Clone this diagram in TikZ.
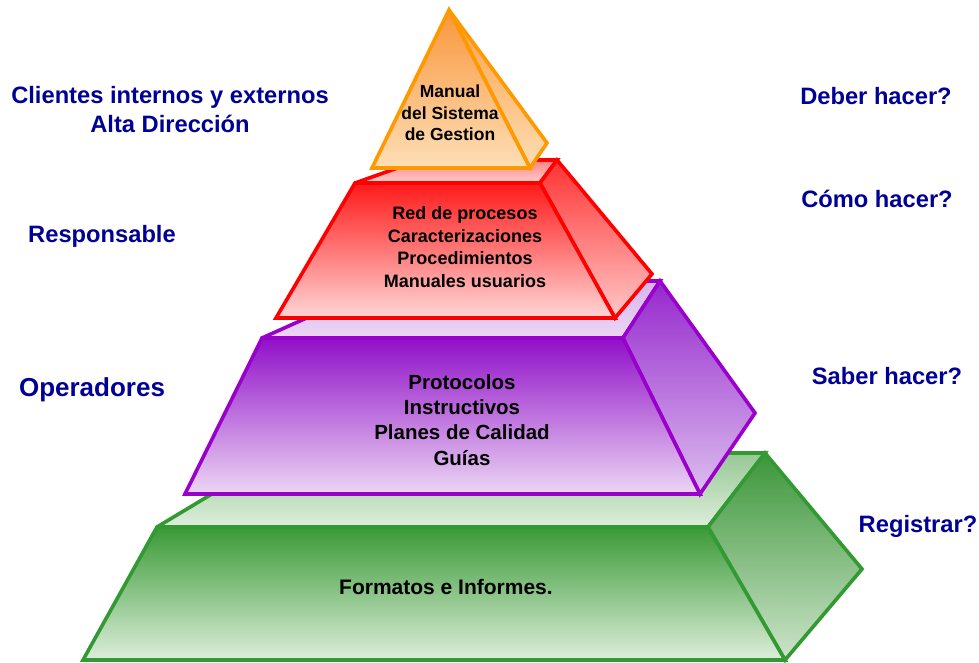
\documentclass[tikz,border=0pt]{standalone}
\usepackage{fontspec}
\setmainfont{Liberation Sans}
\definecolor{navy}{RGB}{0,0,150}
\definecolor{ostroke}{RGB}{255,153,0}
\definecolor{rstroke}{RGB}{255,0,0}
\definecolor{pstroke}{RGB}{153,0,204}
\definecolor{gstroke}{RGB}{51,153,51}
\tikzset{
  lbl/.style={text=navy, font=\bfseries\fontsize{23.7}{29}\selectfont, align=center, inner sep=0pt},
  inner/.style={text=black, align=center, inner sep=0pt},
  face/.style={line width=3.6pt, line join=miter, miter limit=2.5}
}
\begin{document}
\begin{tikzpicture}[x=1pt,y=-1pt]
\useasboundingbox (0,0) rectangle (979,662);
% ---------- green tier ----------
\path[face, draw=gstroke, top color={rgb,255:red,150;green,200;blue,148}, bottom color={rgb,255:red,222;green,238;blue,220}]
  (157,527) -- (280,453) -- (765,453) -- (708,527) -- cycle;
\path[face, draw=gstroke, top color={rgb,255:red,60;green,150;blue,58}, bottom color={rgb,255:red,205;green,228;blue,202}]
  (708,527) -- (765,453) -- (862,569) -- (785,660) -- cycle;
\path[face, draw=gstroke, top color={rgb,255:red,58;green,154;blue,54}, bottom color={rgb,255:red,221;green,238;blue,219}]
  (157,527) -- (708,527) -- (785,660) -- (83,660) -- cycle;
% ---------- purple tier ----------
\path[face, draw=pstroke, top color={rgb,255:red,215;green,180;blue,235}, bottom color={rgb,255:red,236;green,214;blue,244}]
  (262,338) -- (389,281) -- (660,281) -- (623,338) -- cycle;
\path[face, draw=pstroke, top color={rgb,255:red,150;green,40;blue,205}, bottom color={rgb,255:red,220;green,190;blue,238}]
  (623,338) -- (660,281) -- (755,413) -- (700,494) -- cycle;
\path[face, draw=pstroke, top color={rgb,255:red,144;green,16;blue,200}, bottom color={rgb,255:red,236;green,214;blue,244}]
  (262,338) -- (623,338) -- (700,494) -- (185,494) -- cycle;
% ---------- red tier ----------
\path[face, draw=rstroke, top color={rgb,255:red,255;green,130;blue,130}, bottom color={rgb,255:red,255;green,205;blue,205}]
  (355,183) -- (420,160) -- (557,160) -- (540,183) -- cycle;
\path[face, draw=rstroke, top color={rgb,255:red,255;green,50;blue,50}, bottom color={rgb,255:red,255;green,200;blue,200}]
  (540,183) -- (557,160) -- (652,274) -- (615,318) -- cycle;
\path[face, draw=rstroke, top color={rgb,255:red,255;green,26;blue,26}, bottom color={rgb,255:red,255;green,214;blue,214}]
  (355,183) -- (540,183) -- (615,318) -- (276,318) -- cycle;
% ---------- orange tier ----------
\path[face, draw=ostroke, top color={rgb,255:red,250;green,160;blue,70}, bottom color={rgb,255:red,253;green,222;blue,180}]
  (449,10) -- (547,143) -- (530,168) -- cycle;
\path[face, draw=ostroke, top color={rgb,255:red,249;green,150;blue,60}, bottom color={rgb,255:red,253;green,223;blue,182}]
  (449,10) -- (530,168) -- (372,168) -- cycle;
% ---------- inner texts ----------
\node[inner, font=\bfseries\fontsize{17.5}{21.5}\selectfont] (tmanual) at (450,113) {Manual\\del Sistema\\de Gestion};
\node[inner, font=\bfseries\fontsize{18}{22.5}\selectfont] (tred) at (465,247) {Red de procesos\\Caracterizaciones\\Procedimientos\\Manuales usuarios};
\node[inner, font=\bfseries\fontsize{20.5}{25.3}\selectfont] (tpur) at (462,420) {Protocolos\\Instructivos\\Planes de Calidad\\Guías};
\node[inner, font=\bfseries\fontsize{21}{25}\selectfont] (tgreen) at (446,587) {Formatos e Informes.};
% ---------- side labels ----------
\node[lbl] (lclientes) at (170,110) {Clientes internos y externos\\Alta Dirección};
\node[lbl] (lresp) at (102,236) {Responsable};
\node[lbl, font=\bfseries\fontsize{26}{30}\selectfont] (loper) at (92,390) {Operadores};
\node[lbl] (rdeber) at (876,96) {Deber hacer?};
\node[lbl] (rcomo) at (877,199) {Cómo hacer?};
\node[lbl] (rsaber) at (887,376) {Saber hacer?};
\node[lbl] (rreg) at (918,526) {Registrar?};
\end{tikzpicture}
\end{document}
